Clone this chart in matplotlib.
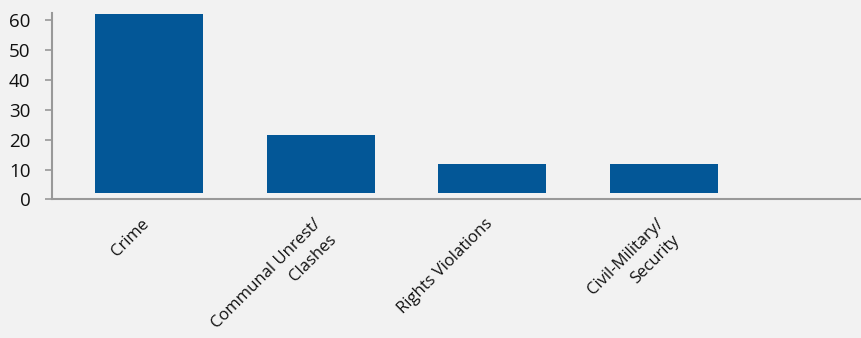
import matplotlib.pyplot as plt
import matplotlib.transforms as mtransforms

categories = ['Crime', 'Communal Unrest/\nClashes', 'Rights Violations', 'Civil-Military/\nSecurity']
tops = [62.0, 21.7, 12.0, 12.0]
base = 2.3

plt.rcParams['font.family'] = ['Open Sans', 'DejaVu Sans']

fig = plt.figure(figsize=(8.62, 3.38), dpi=100)
fig.patch.set_facecolor('#f2f2f2')
ax = fig.add_axes([0.0603, 0.41, 0.9397, 0.551])
ax.set_facecolor('#f2f2f2')

xs = list(range(len(categories)))
heights = [t - base for t in tops]
ax.bar(xs, heights, bottom=base, width=0.63, color='#035797')

ax.set_xlim(-0.565, 4.153)
ax.set_ylim(0, 62.3)
ax.set_yticks(range(0, 61, 10))
ax.tick_params(axis='y', length=5, width=1.2, color='#999999', pad=10.5, labelsize=13.5, labelcolor='#111111')
ax.tick_params(axis='x', length=0, pad=12)

ax.set_xticks(xs)
ax.set_xticklabels(categories, rotation=45, ha='right', va='top',
                   rotation_mode='anchor', fontsize=12, multialignment='right',
                   linespacing=1.5, color='#111111')
shift = mtransforms.ScaledTranslation(-8 / 100, 0, fig.dpi_scale_trans)
for lbl in ax.get_xticklabels():
    lbl.set_transform(lbl.get_transform() + shift)

for side in ['top', 'right']:
    ax.spines[side].set_visible(False)
for side in ['left', 'bottom']:
    ax.spines[side].set_color('#999999')
    ax.spines[side].set_linewidth(1.5)

fig.savefig('out.png', dpi=100, facecolor=fig.get_facecolor())
